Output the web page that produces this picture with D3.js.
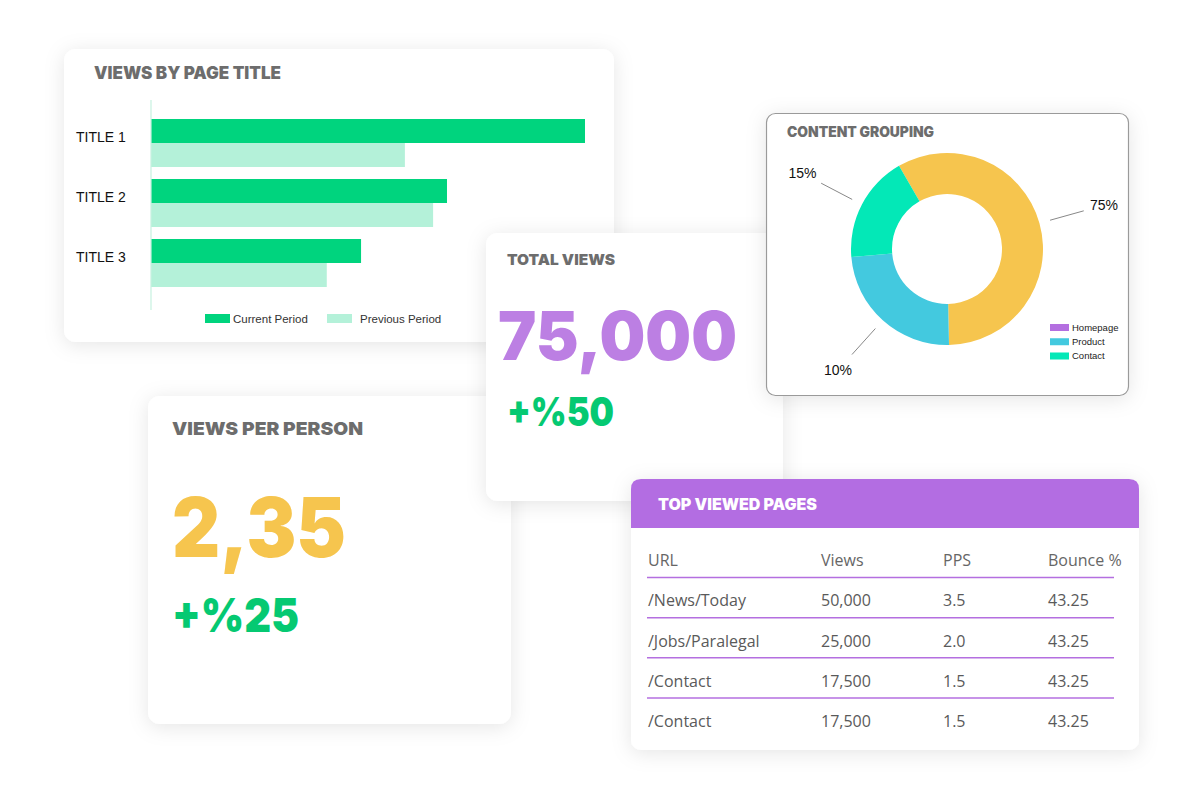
<!DOCTYPE html>
<html><head><meta charset="utf-8">
<script src="https://cdn.jsdelivr.net/npm/d3@7"></script>
<style>body{margin:0;background:#fff}svg{display:block}</style>
</head><body>
<svg id="c" width="1200" height="800"></svg>
<script>
// ---------- data ----------
const categories = ["TITLE 1", "TITLE 2", "TITLE 3"];
const currentPeriod = [1000, 682, 484];
const previousPeriod = [585, 650, 405];
const seriesNames = ["Current Period", "Previous Period"];

const sliceNames = ["Main", "Product", "Contact"];
const sliceShares = [58, 24, 18];
const sliceLabels = ["75%", "10%", "15%"];
const legendNames = ["Homepage", "Product", "Contact"];

const totalViews = "75,000";
const totalViewsChange = "+%50";
const viewsPerPerson = "2,35";
const viewsPerPersonChange = "+%25";

const tableColumns = ["URL", "Views", "PPS", "Bounce %"];
const tableUrls = ["/News/Today", "/Jobs/Paralegal", "/Contact", "/Contact"];
const tableViews = ["50,000", "25,000", "17,500", "17,500"];
const tablePps = ["3.5", "2.0", "1.5", "1.5"];
const tableBounce = ["43.25", "43.25", "43.25", "43.25"];

// ---------- styles ----------
const C = {
  current: "#00D47E", previous: "#B4F1D9", axis: "#C6F1DF",
  title: "#6D6D6D", purple: "#B36DE2", bigPurple: "#BC7FE3",
  green: "#05C972", yellow: "#F6C54E", blue: "#43C9DF", teal: "#03E8B7",
  legendPurple: "#B46FE0"
};
const HEAVY = "Inter, 'Open Sans', sans-serif";
const ARIAL = "'Liberation Sans', Arial, sans-serif";

const svg = d3.select("#c");
const defs = svg.append("defs");
const f = defs.append("filter").attr("id", "sh").attr("x", "-20%").attr("y", "-20%").attr("width", "140%").attr("height", "140%");
f.append("feDropShadow").attr("dx", 0).attr("dy", 3).attr("stdDeviation", 10)
  .attr("flood-color", "#000").attr("flood-opacity", 0.10);

function card(x, y, w, h, r, stroke) {
  const g = svg.append("g");
  g.append("rect").attr("x", x).attr("y", y).attr("width", w).attr("height", h)
    .attr("rx", r).attr("fill", "#fff").attr("filter", "url(#sh)")
    .attr("stroke", stroke || "none").attr("stroke-width", stroke ? 1.2 : 0);
  return g;
}
function heavyText(g, x, y, txt, size, color, len) {
  const t = g.append("text").attr("x", x).attr("y", y).text(txt)
    .attr("font-family", HEAVY).attr("font-weight", 900)
    .attr("font-size", size).attr("fill", color);
  if (len) t.attr("textLength", len).attr("lengthAdjust", "spacingAndGlyphs");
  return t;
}

// ---------- Views by page title ----------
{
  const g = card(64, 49, 550, 293, 12);
  heavyText(g, 94, 79, "VIEWS BY PAGE TITLE", 17, C.title, 187);
  const x = d3.scaleLinear().domain([0, 1000]).range([151, 585]);
  const y0 = d3.scaleBand().domain(categories).range([113, 293]).paddingInner(0.2).paddingOuter(0.1);
  const y1 = d3.scaleBand().domain(seriesNames).range([0, y0.bandwidth()]);
  const colors = d3.scaleOrdinal().domain(seriesNames).range([C.current, C.previous]);
  const rows = categories.map((c, i) => ({ c, vals: [currentPeriod[i], previousPeriod[i]] }));
  const grp = g.selectAll(".grp").data(rows).join("g").attr("transform", d => `translate(0,${y0(d.c)})`);
  grp.selectAll("rect").data(d => d.vals.map((v, j) => ({ s: seriesNames[j], v })))
    .join("rect").attr("x", x(0)).attr("y", d => y1(d.s)).attr("width", d => x(d.v) - x(0))
    .attr("height", y1.bandwidth()).attr("fill", d => colors(d.s));
  g.append("line").attr("x1", x(0)).attr("x2", x(0)).attr("y1", 100).attr("y2", 310)
    .attr("stroke", C.axis).attr("stroke-width", 1.2);
  g.selectAll(".cat").data(categories).join("text").attr("x", 76)
    .attr("y", d => y0(d) + y0.bandwidth() / 2 - 6).attr("dy", "0.35em").text(d => d)
    .attr("font-family", ARIAL).attr("font-size", 14).attr("fill", "#111");
  const lg = g.selectAll(".lg").data(seriesNames).join("g")
    .attr("transform", (d, i) => `translate(${[205, 327][i]},314)`);
  lg.append("rect").attr("width", 25).attr("height", 9).attr("fill", d => colors(d));
  lg.append("text").attr("x", (d, i) => [28, 33][i]).attr("y", 4.5).attr("dy", "0.35em").text(d => d)
    .attr("font-family", ARIAL).attr("font-size", 11.5).attr("fill", "#333");
}

// ---------- Views per person ----------
{
  const g = card(148, 396, 363, 328, 12);
  heavyText(g, 172, 435, "VIEWS PER PERSON", 18, C.title, 191);
  heavyText(g, 172, 557, viewsPerPerson, 82, C.yellow, 174);
  heavyText(g, 172, 632, viewsPerPersonChange, 47, C.green, 127);
}

// ---------- Total views ----------
{
  const g = card(486, 233, 297, 268, 12);
  heavyText(g, 507, 265, "TOTAL VIEWS", 15, C.title, 108);
  heavyText(g, 498, 360, totalViews, 68, C.bigPurple, 239);
  heavyText(g, 507, 426, totalViewsChange, 40, C.green, 107);
}

// ---------- Content grouping ----------
{
  const g = card(766.5, 113.5, 362, 282, 9, "#9A9A9A");
  heavyText(g, 787, 137, "CONTENT GROUPING", 14, C.title, 147);
  const cx = 947, cy = 249;
  const pie = d3.pie().sort(null).startAngle(-30 * Math.PI / 180).endAngle(330 * Math.PI / 180);
  const arcs = pie(sliceShares);
  const col = d3.scaleOrdinal().domain(sliceNames).range([C.yellow, C.blue, C.teal]);
  const arc = d3.arc().innerRadius(55).outerRadius(96);
  const dg = g.append("g").attr("transform", `translate(${cx},${cy})`);
  dg.selectAll("path").data(arcs).join("path").attr("d", arc)
    .attr("fill", (d, i) => col(sliceNames[i]));
  const mid = d => (d.startAngle + d.endAngle) / 2;
  const pt = (a, r) => [Math.sin(a) * r, -Math.cos(a) * r];
  dg.selectAll(".ld").data(arcs).join("line")
    .attr("x1", d => pt(mid(d), 107)[0]).attr("y1", d => pt(mid(d), 107)[1])
    .attr("x2", d => pt(mid(d), 142)[0]).attr("y2", d => pt(mid(d), 142)[1])
    .attr("stroke", "#888").attr("stroke-width", 1);
  dg.selectAll(".lb").data(arcs).join("text")
    .attr("x", d => pt(mid(d), 163)[0]).attr("y", d => pt(mid(d), 163)[1])
    .attr("text-anchor", "middle").attr("dy", "0.35em")
    .text((d, i) => sliceLabels[i]).attr("font-family", ARIAL).attr("font-size", 14).attr("fill", "#111");
  const lcol = d3.scaleOrdinal().domain(legendNames).range([C.legendPurple, C.blue, C.teal]);
  const ly = d3.scalePoint().domain(legendNames).range([327.5, 356]);
  const lg = g.selectAll(".dl").data(legendNames).join("g").attr("transform", d => `translate(1050,${ly(d)})`);
  lg.append("rect").attr("y", -3.5).attr("width", 19).attr("height", 7).attr("fill", d => lcol(d));
  lg.append("text").attr("x", 22).attr("dy", "0.35em").text(d => d)
    .attr("font-family", ARIAL).attr("font-size", 9.5).attr("fill", "#222");
}

// ---------- Top viewed pages ----------
{
  const x0 = 631, y0 = 479, w = 508, h = 271, r = 10;
  const g = card(x0, y0, w, h, r);
  const hh = 49;
  g.append("path").attr("d", `M${x0},${y0 + hh} V${y0 + r} Q${x0},${y0} ${x0 + r},${y0} H${x0 + w - r} Q${x0 + w},${y0} ${x0 + w},${y0 + r} V${y0 + hh} Z`)
    .attr("fill", C.purple);
  heavyText(g, 658, 509.5, "TOP VIEWED PAGES", 16, "#fff", 159);
  const colX = d3.scaleOrdinal().domain(tableColumns).range([648, 821, 943, 1048]);
  const rowKeys = ["head", 0, 1, 2, 3];
  const ry = d3.scalePoint().domain(rowKeys).range([560.5, 721]);
  const data = tableUrls.map((u, i) => [u, tableViews[i], tablePps[i], tableBounce[i]]);
  g.selectAll(".sep").data(rowKeys.slice(0, 4)).join("line")
    .attr("x1", 647).attr("x2", 1114).attr("y1", d => ry(d) + 17).attr("y2", d => ry(d) + 17)
    .attr("stroke", C.legendPurple).attr("stroke-width", 1.5);
  const font = "'Open Sans', 'Noto Sans', sans-serif";
  g.selectAll(".th").data(tableColumns).join("text").attr("x", d => colX(d)).attr("y", ry("head"))
    .attr("dy", "0.36em").text(d => d).attr("font-family", font).attr("font-size", 16).attr("fill", "#666");
  const rg = g.selectAll(".tr").data(data).join("g").attr("transform", (d, i) => `translate(0,${ry(i)})`);
  rg.selectAll("text").data(d => d).join("text").attr("x", (d, j) => colX(tableColumns[j]))
    .attr("dy", "0.36em").text(d => d).attr("font-family", font).attr("font-size", 16).attr("fill", "#5a5a5a");
}
</script>
</body></html>
